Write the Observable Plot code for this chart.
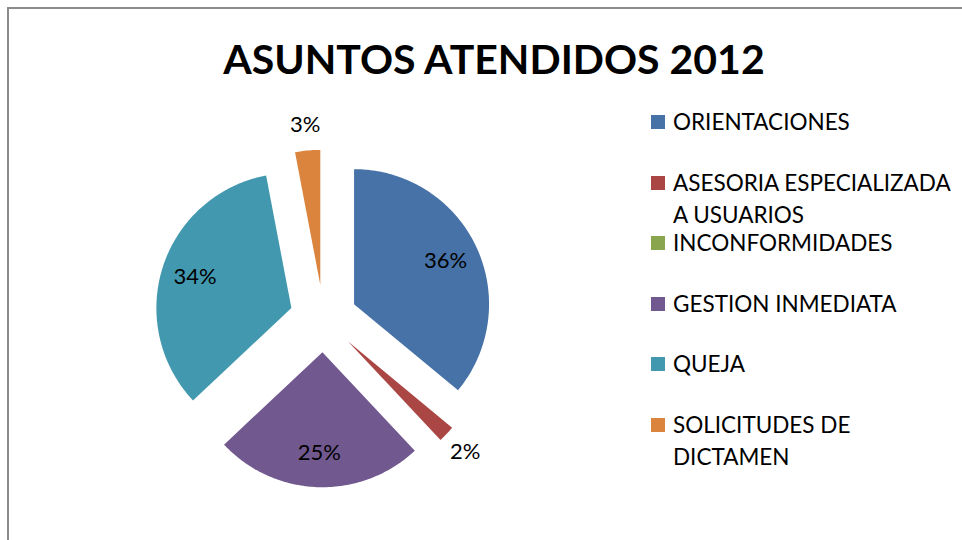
<!DOCTYPE html>
<html>
<head>
<meta charset="utf-8">
<script src="https://cdn.jsdelivr.net/npm/d3@7"></script>
<script src="https://cdn.jsdelivr.net/npm/@observablehq/plot@0.6"></script>
<style>
  body { margin: 0; background: #fff; font-family: Lato, "Open Sans", sans-serif; }
  #wrap { position: relative; width: 962px; height: 540px; overflow: hidden; background: #fff; }
  #frame { position: absolute; left: 7px; top: 7px; width: 1100px; height: 700px;
           border-left: 2px solid #8c8c8c; border-top: 2px solid #8c8c8c; }
  #title { position: absolute; left: 0; top: 34px; width: 988px; text-align: center;
           font: bold 41px Lato, sans-serif; line-height: 49px; color: #000; white-space: nowrap; }
  #chart { position: absolute; left: 0; top: 96px; }
  .item { position: absolute; left: 651px; font: 22.5px Lato, sans-serif; line-height: 32px;
          color: #000; white-space: pre-line; }
  .sw { position: absolute; left: 0; top: 9px; width: 14px; height: 14px; }
  .lab { margin-left: 22px; }
</style>
</head>
<body>
<div id="wrap">
  <div id="frame"></div>
  <div id="title">ASUNTOS ATENDIDOS 2012</div>
  <div id="chart"></div>
</div>
<script>
const categories = ["ORIENTACIONES", "ASESORIA ESPECIALIZADA A USUARIOS", "INCONFORMIDADES",
                    "GESTION INMEDIATA", "QUEJA", "SOLICITUDES DE DICTAMEN"];
const values = [36, 2, 0, 25, 34, 3];
const colors = ["#4672A8", "#AA4643", "#89A54E", "#71588F", "#4298AF", "#DB843D"];
const legendLabels = ["ORIENTACIONES", "ASESORIA ESPECIALIZADA\nA USUARIOS", "INCONFORMIDADES",
                      "GESTION INMEDIATA", "QUEJA", "SOLICITUDES DE\nDICTAMEN"];

// layout
const W = 962, H = 444, cx = 323, cy = 222, R = 135, explode = 0.25;
const total = d3.sum(values);
const arcs = d3.pie().sort(null).value(d => d)(values);

const outline = [];
const labels = [];
arcs.forEach((a, i) => {
  if (a.value <= 0) return;
  const cat = categories[i];
  const mid = (a.startAngle + a.endAngle) / 2;
  const ox = explode * Math.sin(mid), oy = explode * Math.cos(mid);
  outline.push({cat, x: ox, y: oy});
  const n = Math.max(2, Math.ceil((a.endAngle - a.startAngle) / (Math.PI / 180)));
  for (let k = 0; k <= n; k++) {
    const t = a.startAngle + (a.endAngle - a.startAngle) * k / n;
    outline.push({cat, x: ox + Math.sin(t), y: oy + Math.cos(t)});
  }
  outline.push({cat, x: ox, y: oy});
  const pct = Math.round(a.value / total * 100);
  const rr = pct < 5 ? 1.19 : 0.75;
  labels.push({x: ox + rr * Math.sin(mid), y: oy + rr * Math.cos(mid), text: pct + "%"});
});

const plot = Plot.plot({
  width: W, height: H, margin: 0,
  x: {domain: [-cx / R, (W - cx) / R], axis: null},
  y: {domain: [-(H - cy) / R, cy / R], axis: null},
  color: {domain: categories, range: colors},
  style: {background: "transparent", overflow: "visible"},
  marks: [
    Plot.line(outline, {x: "x", y: "y", z: "cat", fill: "cat", stroke: "none", curve: "linear"}),
    Plot.text(labels, {x: "x", y: "y", text: "text", fontSize: 22, fill: "#000", fontFamily: "Lato"})
  ]
});
document.getElementById("chart").appendChild(plot);

// legend
const wrap = document.getElementById("wrap");
categories.forEach((c, i) => {
  const d = document.createElement("div");
  d.className = "item";
  d.style.top = (122 + i * 60.6 - 16) + "px";
  const sw = document.createElement("div");
  sw.className = "sw";
  sw.style.background = colors[i];
  const lab = document.createElement("div");
  lab.className = "lab";
  lab.textContent = legendLabels[i];
  d.appendChild(sw);
  d.appendChild(lab);
  wrap.appendChild(d);
});
</script>
</body>
</html>
